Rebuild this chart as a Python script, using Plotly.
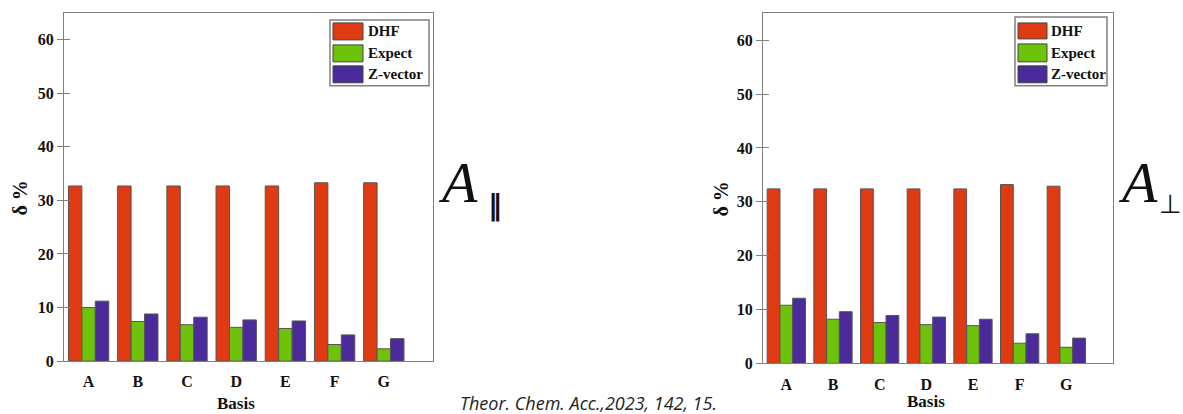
import plotly.graph_objects as go

# Reference picture size; the page's viewport is a little taller than the picture,
# so the figure is made as tall as the viewport and laid out in fractions of REF_H.
REF_W, REF_H = 1183, 414
W, H = 1183, 422

basis = ["A", "B", "C", "D", "E", "F", "G"]
series_names = ["DHF", "Expect", "Z-vector"]
series_colors = ["#E03A12", "#6EC20A", "#4B2A9C"]

par_dhf = [32.7, 32.7, 32.7, 32.7, 32.7, 33.3, 33.3]
par_expect = [10.0, 7.4, 6.8, 6.3, 6.1, 3.1, 2.3]
par_zvec = [11.2, 8.8, 8.2, 7.7, 7.5, 4.9, 4.2]

perp_dhf = [32.4, 32.4, 32.4, 32.4, 32.4, 33.2, 32.9]
perp_expect = [10.8, 8.2, 7.6, 7.2, 7.0, 3.75, 3.0]
perp_zvec = [12.1, 9.6, 8.9, 8.6, 8.2, 5.5, 4.7]

y_ticks = [0, 10, 20, 30, 40, 50, 60]


def px(x):
    return x / REF_W


def py(y):
    return 1 - y / REF_H


fig = go.Figure()

panels = [
    ("x", "y", [par_dhf, par_expect, par_zvec]),
    ("x2", "y2", [perp_dhf, perp_expect, perp_zvec]),
]
for xa, ya, vals in panels:
    for name, color, v in zip(series_names, series_colors, vals):
        fig.add_trace(go.Bar(
            x=basis, y=v, name=name, xaxis=xa, yaxis=ya,
            marker=dict(color=color, line=dict(color="#555555", width=1)),
            showlegend=False, hoverinfo="skip",
        ))

axis_line = dict(showline=True, linecolor="#808080", linewidth=1, mirror=True,
                 showgrid=False, zeroline=False)
tick_font = dict(family="Liberation Serif", size=16, color="#111111", weight="bold")

left_dom_x = [px(64), px(433)]
left_dom_y = [py(362), py(13)]
right_dom_x = [px(763), px(1113)]
right_dom_y = [py(364.3), py(13.3)]

xcommon = dict(type="category", range=[-0.5, 7], ticks="outside", ticklen=6,
               tickcolor="rgba(0,0,0,0)", tickfont=tick_font, **axis_line)
ycommon = dict(range=[0, 65], tickvals=y_ticks, ticks="outside", ticklen=6,
               tickcolor="#808080", tickwidth=1, tickfont=tick_font, **axis_line)

fig.update_layout(
    width=W, height=H,
    margin=dict(l=0, r=0, t=0, b=0),
    paper_bgcolor="white", plot_bgcolor="white",
    barmode="group", bargap=0.18, bargroupgap=0,
    showlegend=False,
    xaxis=dict(domain=left_dom_x, anchor="y", **xcommon),
    yaxis=dict(domain=left_dom_y, anchor="x", **ycommon),
    xaxis2=dict(domain=right_dom_x, anchor="y2", **xcommon),
    yaxis2=dict(domain=right_dom_y, anchor="x2", **ycommon),
    # inner halves of the crossing y ticks
    yaxis3=dict(overlaying="y", anchor="x", range=[0, 65], tickvals=y_ticks,
                ticks="inside", ticklen=6, tickcolor="#808080",
                showticklabels=False, showgrid=False, zeroline=False, showline=False),
    yaxis4=dict(overlaying="y2", anchor="x2", range=[0, 65], tickvals=y_ticks,
                ticks="inside", ticklen=6, tickcolor="#808080",
                showticklabels=False, showgrid=False, zeroline=False, showline=False),
)
fig.add_trace(go.Scatter(x=[None], y=[None], xaxis="x", yaxis="y3", showlegend=False))
fig.add_trace(go.Scatter(x=[None], y=[None], xaxis="x2", yaxis="y4", showlegend=False))

shapes = []
annotations = []


def add_legend(box, sw_x0, sw_x1, rows, text_x):
    x0, y0, x1, y1 = box
    shapes.append(dict(type="rect", xref="paper", yref="paper",
                       x0=px(x0), x1=px(x1), y0=py(y1), y1=py(y0),
                       line=dict(color="#808080", width=1.5), fillcolor="white"))
    for (ry0, ry1), name, color in zip(rows, series_names, series_colors):
        shapes.append(dict(type="rect", xref="paper", yref="paper",
                           x0=px(sw_x0), x1=px(sw_x1), y0=py(ry1), y1=py(ry0),
                           line=dict(color="#444444", width=1), fillcolor=color))
        annotations.append(dict(xref="paper", yref="paper", x=px(text_x),
                                y=py((ry0 + ry1) / 2), xanchor="left", yanchor="middle",
                                text="<b>%s</b>" % name, showarrow=False,
                                font=dict(family="Liberation Serif", size=15, color="#111111")))


add_legend((330, 20, 429, 86), 333, 363, [(23, 40), (45, 62), (66, 83)], 366)
add_legend((1015, 17, 1107, 86), 1018, 1047, [(23, 39), (44, 62), (66, 83)], 1049)

# axis titles
for x, y in [(20, 199), (721, 200)]:
    annotations.append(dict(xref="paper", yref="paper", x=px(x), y=py(y),
                            xanchor="center", yanchor="middle", textangle=-90,
                            text="<b>δ %</b>", showarrow=False,
                            font=dict(family="Liberation Serif", size=20, color="#111111")))
annotations.append(dict(xref="x", yref="paper", x="D", y=py(404), xanchor="center",
                        yanchor="middle", text="<b>Basis</b>", showarrow=False,
                        font=dict(family="Liberation Serif", size=17, color="#111111")))
annotations.append(dict(xref="x2", yref="paper", x="D", y=py(402), xanchor="center",
                        yanchor="middle", text="<b>Basis</b>", showarrow=False,
                        font=dict(family="Liberation Serif", size=17, color="#111111")))

# panel symbols
annotations.append(dict(xref="paper", yref="paper", x=px(436), y=py(183), xanchor="left",
                        yanchor="middle", text="<i>A</i>", showarrow=False,
                        font=dict(family="Liberation Serif", size=58, color="#111111")))
annotations.append(dict(xref="paper", yref="paper", x=px(495), y=py(206), xanchor="center",
                        yanchor="middle", text="<b>‖</b>", showarrow=False,
                        font=dict(family="DejaVu Sans", size=28, color="#111111")))
annotations.append(dict(xref="paper", yref="paper", x=px(1116), y=py(183), xanchor="left",
                        yanchor="middle", text="<i>A</i>", showarrow=False,
                        font=dict(family="Liberation Serif", size=58, color="#111111")))
annotations.append(dict(xref="paper", yref="paper", x=px(1157), y=py(204), xanchor="left",
                        yanchor="middle", text="⊥", showarrow=False,
                        font=dict(family="DejaVu Sans", size=26, color="#111111")))

# citation
annotations.append(dict(xref="paper", yref="paper", x=px(588), y=py(404), xanchor="center",
                        yanchor="middle", text="<i>Theor. Chem. Acc.,2023, 142, 15.</i>",
                        showarrow=False,
                        font=dict(family="Open Sans", size=18, color="#222222")))

fig.update_layout(shapes=shapes, annotations=annotations)

# remove the default page margin so the figure sits at the window's top-left corner
fig.write_html("out.html",
               config={"displayModeBar": False},
               post_script="document.body.style.margin='0';document.body.style.overflow='hidden';")
